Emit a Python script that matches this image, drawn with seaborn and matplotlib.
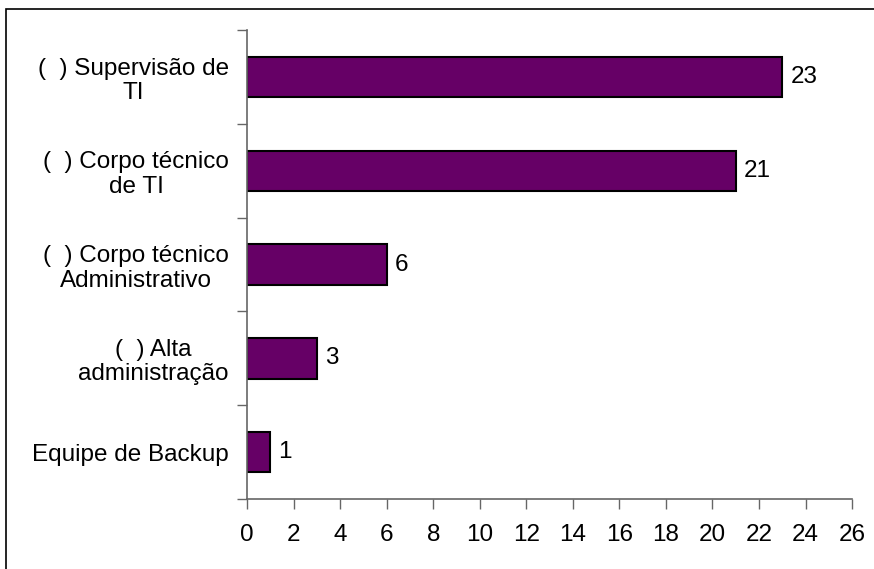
import matplotlib
matplotlib.use("Agg")
import matplotlib.pyplot as plt
import seaborn as sns
import pandas as pd
from matplotlib.patches import Rectangle

categories = ["(  ) Supervisão de\nTI", "(  ) Corpo técnico\nde TI", "(  ) Corpo técnico\nAdministrativo",
              "(  ) Alta\nadministração", "Equipe de Backup"]
values = [23, 21, 6, 3, 1]
xticks = list(range(0, 27, 2))

FS = 17.5
sns.set_theme(style="white")
plt.rcParams['font.family'] = ['Liberation Sans', 'DejaVu Sans']
plt.rcParams['xtick.labelsize'] = FS
plt.rcParams['ytick.labelsize'] = FS

df = pd.DataFrame({"cat": categories, "val": values})
fig = plt.figure(figsize=(8.74, 5.69), dpi=100)
ax = fig.add_axes([0.2826, 0.123, 0.975 - 0.2826, 0.947 - 0.123])
sns.barplot(data=df, y="cat", x="val", orient="h", color="#660066", saturation=1,
            edgecolor="black", linewidth=1.5, width=0.43, ax=ax)

for i, v in enumerate(values):
    ax.annotate(str(v), xy=(v, i), xytext=(8, 0), textcoords="offset pixels",
                va="center", ha="left", fontsize=FS, color="black")

ax.set_xlim(0, 26)
ax.set_ylim(4.5, -0.5)
ax.set_xticks(xticks)
ax.set_xticklabels([str(t) for t in xticks], fontsize=FS)
ax.set_yticks(range(len(categories)))
ax.set_yticklabels(categories, fontsize=FS, multialignment="center", linespacing=1.15)
ax.tick_params(axis="x", which="major", length=7, width=1, color="#666666",
               direction="out", bottom=True, pad=11, labelsize=FS, labelcolor="black")
ax.tick_params(axis="y", which="major", length=0, pad=13, labelsize=FS, labelcolor="black")
ax.set_yticks([i - 0.5 for i in range(len(categories) + 1)], minor=True)
ax.tick_params(axis="y", which="minor", length=7, width=1, color="#666666", left=True)
ax.set_xlabel("")
ax.set_ylabel("")
for s in ["top", "right"]:
    ax.spines[s].set_visible(False)
for s in ["left", "bottom"]:
    ax.spines[s].set_color("#666666")
    ax.spines[s].set_linewidth(1.2)

fig.canvas.draw()
for t in ax.get_xticklabels() + ax.get_yticklabels():
    t.set_fontsize(FS)
    t.set_color("black")

fig.add_artist(Rectangle((6 / 874, -0.05), 1.1, 1 - 9 / 569 + 0.05, transform=fig.transFigure,
                         fill=False, edgecolor="black", linewidth=1.2))
fig.savefig("out.png", dpi=100)
